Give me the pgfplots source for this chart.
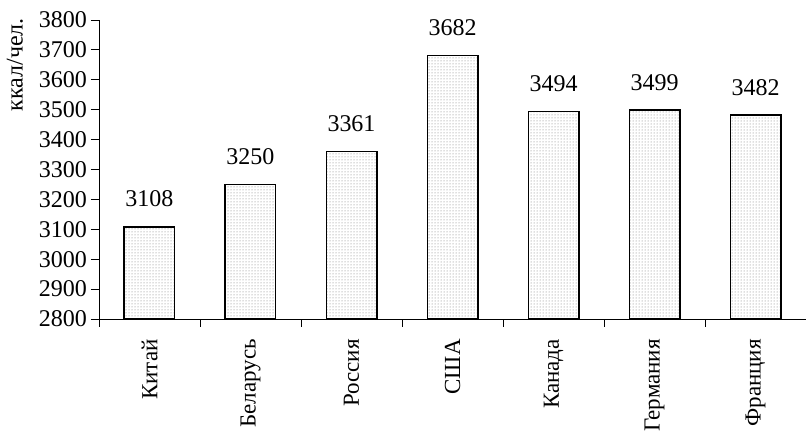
\documentclass[border=0pt]{standalone}
\usepackage{pgfplots}
\pgfplotsset{compat=1.18}
\usepackage{fontspec}
\setmainfont{Liberation Serif}
\usetikzlibrary{patterns}
\begin{document}
\fontsize{24pt}{28pt}\selectfont
\begin{tikzpicture}
\begin{axis}[
  scale only axis,
  width=707pt, height=299pt,
  xmin=-0.5, xmax=6.5,
  ymin=2800, ymax=3800,
  ytick={2800,2900,...,3800},
  yticklabel={\pgfmathprintnumber[fixed, precision=0, 1000 sep={}, assume math mode=true]{\tick}},
  xtick={0,...,6},
  xticklabels={Китай,Беларусь,Россия,США,Канада,Германия,Франция},
  minor xtick={-0.5,0.5,...,6.5},
  axis x line*=bottom,
  axis y line*=left,
  axis line style={line width=0.8pt, -},
  tick align=outside,
  major tick length=8pt,
  minor tick length=8pt,
  x tick style={draw=none},
  minor x tick style={draw=black, line width=0.8pt},
  y tick style={line width=0.8pt, black},
  xticklabel style={rotate=90, anchor=east, inner sep=0pt, font=\fontsize{23pt}{27pt}\selectfont},
  xticklabel shift=12pt,
  yticklabel style={inner sep=0pt, font=\fontsize{24pt}{28pt}\selectfont},
  yticklabel shift=4pt,
  ylabel={ккал/чел.},
  ylabel style={at={(axis description cs:-0.119,0.85)}, anchor=center, font=\fontsize{24pt}{28pt}\selectfont},
  ybar,
  bar width=0.5,
  clip=false,
  nodes near coords={\pgfmathprintnumber[fixed, precision=0, 1000 sep={}, assume math mode=true]{\pgfplotspointmeta}},
  nodes near coords style={anchor=south, inner sep=0pt, yshift=19pt, font=\fontsize{24pt}{28pt}\selectfont},
]
\addplot[draw=black, line width=1.5pt, pattern=dots, pattern color=black!55] coordinates {
  (0,3108) (1,3250) (2,3361) (3,3682) (4,3494) (5,3499) (6,3482)
};
\end{axis}
\pgfresetboundingbox
\path[use as bounding box] (-99pt,-114pt) rectangle (707pt,319pt);
\end{tikzpicture}
\end{document}
